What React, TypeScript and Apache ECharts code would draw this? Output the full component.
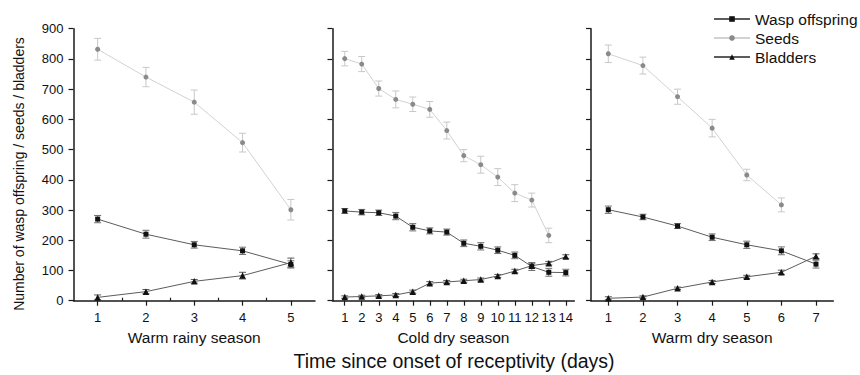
import { useEffect, useRef } from 'react';
import * as echarts from 'echarts';

// ---- Data ----
const seriesNames = ['Wasp offspring', 'Seeds', 'Bladders'];
const panelTitles = ['Warm rainy season', 'Cold dry season', 'Warm dry season'];
const yTitle = 'Number of wasp offspring / seeds / bladders';
const xTitle = 'Time since onset of receptivity (days)';

// Warm rainy season
const rainyDays = [1, 2, 3, 4, 5];
const rainySeeds = [832, 740, 657, 523, 301];
const rainySeedsErr = [36, 32, 40, 31, 34];
const rainyWasp = [270, 220, 185, 165, 120];
const rainyWaspErr = [12, 13, 11, 12, 12];
const rainyBladders = [11, 30, 64, 83, 126];
const rainyBladdersErr = [8, 7, 6, 11, 15];

// Cold dry season
const coldDays = [1, 2, 3, 4, 5, 6, 7, 8, 9, 10, 11, 12, 13, 14];
const coldSeeds = [801, 783, 702, 666, 650, 633, 563, 480, 450, 409, 356, 333, 216];
const coldSeedsErr = [24, 25, 25, 28, 24, 26, 28, 20, 28, 28, 28, 23, 24];
const coldWasp = [297, 293, 291, 280, 243, 231, 227, 190, 180, 167, 150, 113, 94, 93];
const coldWaspErr = [8, 9, 9, 12, 12, 10, 10, 11, 12, 11, 11, 13, 13, 11];
const coldBladders = [12, 14, 16, 19, 30, 58, 62, 66, 70, 82, 98, 116, 124, 146];
const coldBladdersErr = [4, 4, 4, 5, 5, 5, 5, 5, 5, 5, 6, 8, 6, 6];

// Warm dry season
const warmDryDays = [1, 2, 3, 4, 5, 6, 7];
const warmDrySeeds = [817, 778, 675, 571, 416, 317];
const warmDrySeedsErr = [29, 28, 25, 29, 19, 23];
const warmDryWasp = [301, 277, 247, 210, 185, 165, 121];
const warmDryWaspErr = [12, 9, 8, 11, 12, 13, 13];
const warmDryBladders = [8, 12, 41, 62, 79, 94, 147];
const warmDryBladdersErr = [5, 4, 4, 5, 5, 7, 8];

const rainyMinorTicks = [1.5, 2.5, 3.5, 4.5];

const FONT = '"Liberation Sans", Arial, Helvetica, sans-serif';

type Panel = {
  days: number[];
  seeds: number[];
  seedsErr: number[];
  wasp: number[];
  waspErr: number[];
  bladders: number[];
  bladdersErr: number[];
  min: number;
  max: number;
  left: number;
  width: number;
};

const panels: Panel[] = [
  { days: rainyDays, seeds: rainySeeds, seedsErr: rainySeedsErr, wasp: rainyWasp, waspErr: rainyWaspErr, bladders: rainyBladders, bladdersErr: rainyBladdersErr, min: 0.5, max: 5.5, left: 73.5, width: 241.5 },
  { days: coldDays, seeds: coldSeeds, seedsErr: coldSeedsErr, wasp: coldWasp, waspErr: coldWaspErr, bladders: coldBladders, bladdersErr: coldBladdersErr, min: 0.28, max: 14.5, left: 332.5, width: 241.8 },
  { days: warmDryDays, seeds: warmDrySeeds, seedsErr: warmDrySeedsErr, wasp: warmDryWasp, waspErr: warmDryWaspErr, bladders: warmDryBladders, bladdersErr: warmDryBladdersErr, min: 0.5, max: 7.5, left: 591, width: 242.3 },
];

const GRID_TOP = 28.7;
const GRID_HEIGHT = 272;

function pairs(days: number[], vals: number[]) {
  return vals.map((v, i) => [days[i], v]);
}
function errs(days: number[], vals: number[], e: number[]) {
  return vals.map((v, i) => [days[i], v - e[i], v + e[i]]);
}

function errorBarSeries(name: string, idx: number, data: number[][], color: string) {
  return {
    type: 'custom',
    name,
    xAxisIndex: idx,
    yAxisIndex: idx,
    z: 1,
    silent: true,
    encode: { x: 0, y: [1, 2] },
    data,
    renderItem: (_params: any, api: any) => {
      const x = api.value(0);
      const lo = api.value(1);
      const hi = api.value(2);
      const p1 = api.coord([x, hi]);
      const p2 = api.coord([x, lo]);
      const hw = 3.5;
      const style = { stroke: color, lineWidth: 1 };
      return {
        type: 'group',
        children: [
          { type: 'line', shape: { x1: p1[0], y1: p1[1], x2: p2[0], y2: p2[1] }, style },
          { type: 'line', shape: { x1: p1[0] - hw, y1: p1[1], x2: p1[0] + hw, y2: p1[1] }, style },
          { type: 'line', shape: { x1: p2[0] - hw, y1: p2[1], x2: p2[0] + hw, y2: p2[1] }, style },
        ],
      };
    },
  };
}

export default function App() {
  const ref = useRef<HTMLDivElement>(null);

  useEffect(() => {
    if (!ref.current) return;
    const chart = echarts.init(ref.current, undefined, { renderer: 'svg' });

    const grid = panels.map((p) => ({ left: p.left, top: GRID_TOP, width: p.width, height: GRID_HEIGHT }));

    const axisLine = { show: true, onZero: false, lineStyle: { color: '#1a1a1a', width: 1.5 } };

    const xAxis: any[] = panels.map((p, i) => ({
      type: 'value',
      gridIndex: i,
      min: p.min,
      max: p.max,
      axisLine,
      axisTick: { show: true, inside: false, length: 5, customValues: p.days, lineStyle: { color: '#1a1a1a', width: 1.2 } },
      axisLabel: { show: true, customValues: p.days, fontSize: 13, color: '#111', fontFamily: FONT, margin: 10 },
      splitLine: { show: false },
      name: panelTitles[i],
      nameLocation: 'middle',
      nameGap: 29,
      nameTextStyle: { fontSize: 15.5, color: '#111', fontFamily: FONT },
    }));
    // minor ticks of the first panel
    xAxis.push({
      type: 'value',
      gridIndex: 0,
      min: panels[0].min,
      max: panels[0].max,
      axisLine: { show: false },
      axisTick: { show: true, inside: false, length: 3, customValues: rainyMinorTicks, lineStyle: { color: '#1a1a1a', width: 1.2 } },
      axisLabel: { show: false },
      splitLine: { show: false },
    });

    const yAxis = panels.map((_p, i) => ({
      type: 'value',
      gridIndex: i,
      min: 0,
      max: 900,
      interval: 100,
      axisLine,
      axisTick: { show: true, inside: false, length: 5, lineStyle: { color: '#1a1a1a', width: 1.2 } },
      axisLabel: { show: i === 0, fontSize: 13, color: '#111', fontFamily: FONT, margin: 10 },
      splitLine: { show: false },
    }));

    const series: any[] = [];
    panels.forEach((p, i) => {
      series.push(errorBarSeries('seedsErr' + i, i, errs(p.days, p.seeds, p.seedsErr), '#c8c8c8'));
      series.push(errorBarSeries('waspErr' + i, i, errs(p.days, p.wasp, p.waspErr), '#707070'));
      series.push(errorBarSeries('bladdersErr' + i, i, errs(p.days, p.bladders, p.bladdersErr), '#5a5a5a'));
      series.push({
        type: 'line',
        name: seriesNames[0],
        xAxisIndex: i,
        yAxisIndex: i,
        z: 3,
        data: pairs(p.days, p.wasp),
        symbol: 'rect',
        symbolSize: 5,
        lineStyle: { color: '#5c5c5c', width: 1 },
        itemStyle: { color: '#111' },
      });
      series.push({
        type: 'line',
        name: seriesNames[1],
        xAxisIndex: i,
        yAxisIndex: i,
        z: 2,
        data: pairs(p.days, p.seeds),
        symbol: 'circle',
        symbolSize: 5,
        lineStyle: { color: '#d2d2d2', width: 1 },
        itemStyle: { color: '#8a8a8a' },
      });
      series.push({
        type: 'line',
        name: seriesNames[2],
        xAxisIndex: i,
        yAxisIndex: i,
        z: 3,
        data: pairs(p.days, p.bladders),
        symbol: 'triangle',
        symbolSize: 6.5,
        lineStyle: { color: '#5c5c5c', width: 1 },
        itemStyle: { color: '#111' },
      });
    });

    chart.setOption({
      animation: false,
      backgroundColor: '#ffffff',
      textStyle: { fontFamily: FONT },
      grid,
      xAxis,
      yAxis,
      legend: {
        data: seriesNames,
        orient: 'vertical',
        left: 713,
        top: 11,
        padding: 0,
        itemWidth: 36,
        itemHeight: 7,
        itemGap: 3,
        selectedMode: false,
        textStyle: { fontSize: 15.5, color: '#111', fontFamily: FONT, lineHeight: 16 },
      },
      graphic: [
        {
          type: 'text',
          x: 19,
          y: 174,
          rotation: Math.PI / 2,
          style: { text: yTitle, fontSize: 14, fill: '#111', fontFamily: FONT, textAlign: 'center', textVerticalAlign: 'middle' },
        },
        {
          type: 'text',
          x: 454,
          y: 360.5,
          style: { text: xTitle, fontSize: 19.5, fill: '#111', fontFamily: FONT, textAlign: 'center', textVerticalAlign: 'middle' },
        },
      ],
      series,
    });

    return () => chart.dispose();
  }, []);

  return <div ref={ref} style={{ position: 'fixed', left: 0, top: 0, width: 860, height: 375 }} />;
}
